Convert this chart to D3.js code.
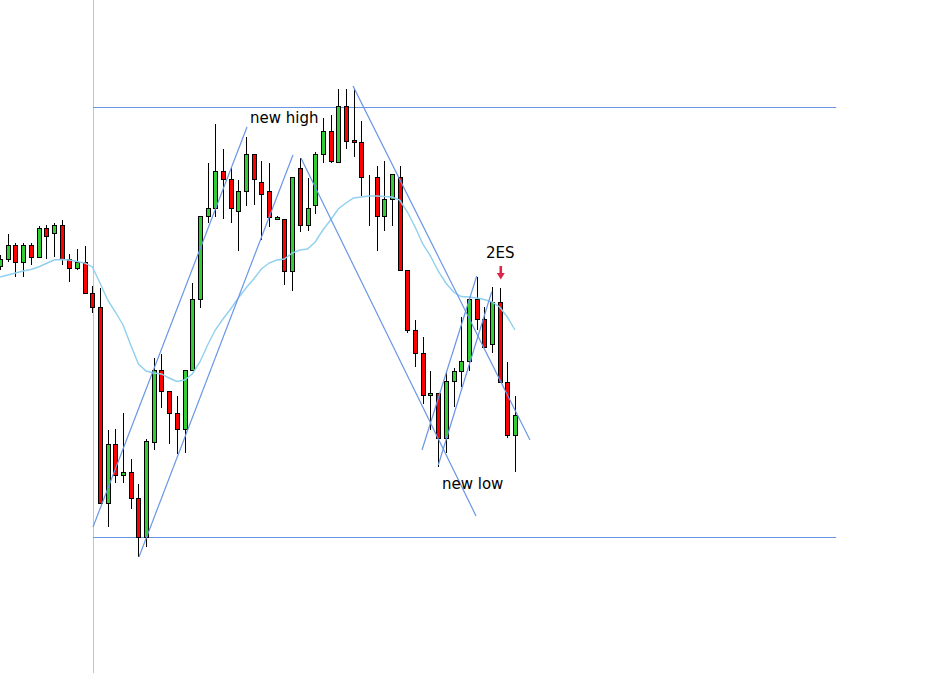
<!DOCTYPE html>
<html><head><meta charset="utf-8">
<script src="https://cdn.jsdelivr.net/npm/d3@7"></script>
<style>html,body{margin:0;padding:0;background:#fff;}svg{display:block;}</style>
</head><body>
<script>
// candle data: [open, high, low, close]
const opens  = [434.3,440.7,455,437.7,455,443.3,472,466.7,475,440.7,432.3,437.7,406.7,392.7,196.7,255.7,224.7,227.7,201.7,163.3,258.3,330,309.3,287.3,270.7,330,401,484,491.7,529,520.7,488.7,508.7,546,517.7,508.7,480.7,480.7,429.3,531.7,475,495,546,569,537.7,593.7,559.7,557.7,523.3,522.7,484,501,522.7,430,370,346.7,304.7,307.3,261.7,318.7,329.3,338.7,400.7,380.7,355.7,398,318.3,265];
const highs  = [445,466,457.3,457.3,457.3,474,475.3,477.3,480,446,450.7,454,414,411.7,270,270.7,287.3,241,216,261,341.7,346,309.3,304,330,416.7,484,537.3,576,550.7,532,520,562.7,546,539.3,537.3,484,480.7,522.7,541.7,521.7,548.3,581.7,585,610.7,610.7,610.7,579,525,534,539,525.7,534,430,380,362.7,329,307.3,329,332.3,382.7,400.7,423.3,393.3,413.3,411.7,337.7,304.3];
const lows   = [430,438,423.3,423.3,434.7,443.3,440.7,443.3,434.7,417.7,429.7,406.7,386.7,196.7,173.3,216.7,216.7,190.7,143.3,153.3,250,292.3,255.7,245.7,247.3,330,392.3,477.3,483.3,480.7,477.3,449.3,494,494.7,460,473.3,480,414.7,409.3,468.3,469.3,486,537.3,537.3,537.7,551.3,542.7,504,474.3,449.3,469,474.3,430,366.7,332.7,296,270,233.3,246.7,292.7,312.7,329.3,370,352.7,346.7,318.3,261.7,227.7];
const closes = [440.7,455,437.7,455,443.3,472,463.7,475,440.7,432.3,437.7,406.7,392.7,196.7,255.7,224.7,227.7,201.7,163.3,259,330,309.3,287.3,270.7,330,401,484,491.7,529,520.7,492,508.7,546,520.7,505.7,483.3,483.3,429.3,522.7,475,491.7,546,569,539.3,593.7,559.3,557.7,522.7,523.3,484,501,525.7,430,370,346.7,304.7,307.3,261.7,318.7,329.3,338.7,400.7,380.7,352.7,398,318.3,265,284.7];
// moving average values per candle
const maValues = [423,425,427,429,430.5,433,436.5,440,440.5,440,438.5,437,433,417,400,388,375,355,336,329,327,326,322,318.5,320,326,338,355,370,381,391,402,412,421,431,437,440,441,447,450,451,458,470,480,491,497,502,503,504,504,503.5,503,500,488,473,456,444,429,417,408,403.5,403,402,400.5,398,393,383,370];
// trend lines: [[index, price],[index, price]]
const trendLines = [
  [[12.09,173],[32.13,573]],
  [[18.07,143],[38.11,545]],
  [[39.15,542],[61.93,184]],
  [[45.92,614],[68.95,260]],
  [[54.9,250],[62.02,424]],
  [[57.02,235],[63.97,408.3]]
];
const levels = [592.7, 162.7];
const levelStart = 12.1, levelEnd = 108.8;
const labels = [
  {text:"new high", i:32.52, p:577},
  {text:"2ES", i:63.23, p:441.7},
  {text:"new low", i:57.5, p:211}
];
const arrow = {i:65.15, top:434, bottom:420.5};

const W = 944, H = 673;
const x = d3.scaleLinear().domain([0, 100]).range([0.1, 768.6]);
const y = d3.scaleLinear().domain([0, 700]).range([700, 0]);

const svg = d3.select("body").append("svg").attr("width", W).attr("height", H);
svg.append("rect").attr("width", W).attr("height", H).attr("fill", "#fff");

// vertical separator
const vx = Math.round(x(levelStart)) + 0.5;
svg.append("line").attr("x1", vx).attr("x2", vx).attr("y1", 0).attr("y2", H)
  .attr("stroke", "#c4c4c4").attr("stroke-width", 1);

// level lines
svg.selectAll("line.level").data(levels).join("line").attr("class","level")
  .attr("x1", x(levelStart)).attr("x2", x(levelEnd))
  .attr("y1", d => Math.round(y(d)) + 0.5).attr("y2", d => Math.round(y(d)) + 0.5)
  .attr("stroke", "#6a96e6").attr("stroke-width", 1);

const candles = opens.map((o, i) => ({i, o, h: highs[i], l: lows[i], c: closes[i]}));
const g = svg.append("g");
const cg = g.selectAll("g.c").data(candles).join("g").attr("class","c");
cg.append("line")
  .attr("x1", d => Math.round(x(d.i)) + 0.5).attr("x2", d => Math.round(x(d.i)) + 0.5)
  .attr("y1", d => Math.round(y(d.h))).attr("y2", d => Math.round(y(d.l)))
  .attr("stroke", "#000").attr("stroke-width", 1);
cg.append("rect")
  .attr("x", d => Math.round(x(d.i)) - 1.5)
  .attr("width", 4)
  .attr("y", d => Math.round(y(Math.max(d.o, d.c))) + 0.5)
  .attr("height", d => Math.max(0, Math.round(y(Math.min(d.o, d.c))) - Math.round(y(Math.max(d.o, d.c))) ))
  .attr("fill", d => d.c > d.o ? "#32cd32" : "#ff0000")
  .attr("stroke", "#000").attr("stroke-width", 1);

// moving average
const maLine = d3.line().x((d, i) => x(i)).y(d => y(d)).curve(d3.curveLinear);
svg.append("path").datum(maValues).attr("d", maLine)
  .attr("fill", "none").attr("stroke", "#8fd0ee").attr("stroke-width", 1.4);

// trend lines
svg.selectAll("line.trend").data(trendLines).join("line").attr("class","trend")
  .attr("x1", d => x(d[0][0])).attr("y1", d => y(d[0][1]))
  .attr("x2", d => x(d[1][0])).attr("y2", d => y(d[1][1]))
  .attr("stroke", "#6a96e6").attr("stroke-width", 1.2);

// labels
svg.selectAll("text.lbl").data(labels).join("text").attr("class","lbl")
  .attr("x", d => x(d.i)).attr("y", d => y(d.p))
  .attr("font-family", "'DejaVu Sans', sans-serif").attr("font-size", 15)
  .attr("fill", "#000").text(d => d.text);

// arrow
const ax = x(arrow.i), at = y(arrow.top), ab = y(arrow.bottom);
svg.append("path")
  .attr("d", `M${ax-1.3},${at} L${ax+1.3},${at} L${ax+1.3},${ab-6.5} L${ax+4},${ab-6.5} L${ax},${ab} L${ax-4},${ab-6.5} L${ax-1.3},${ab-6.5} Z`)
  .attr("fill", "#d9264a");
</script>
</body></html>
